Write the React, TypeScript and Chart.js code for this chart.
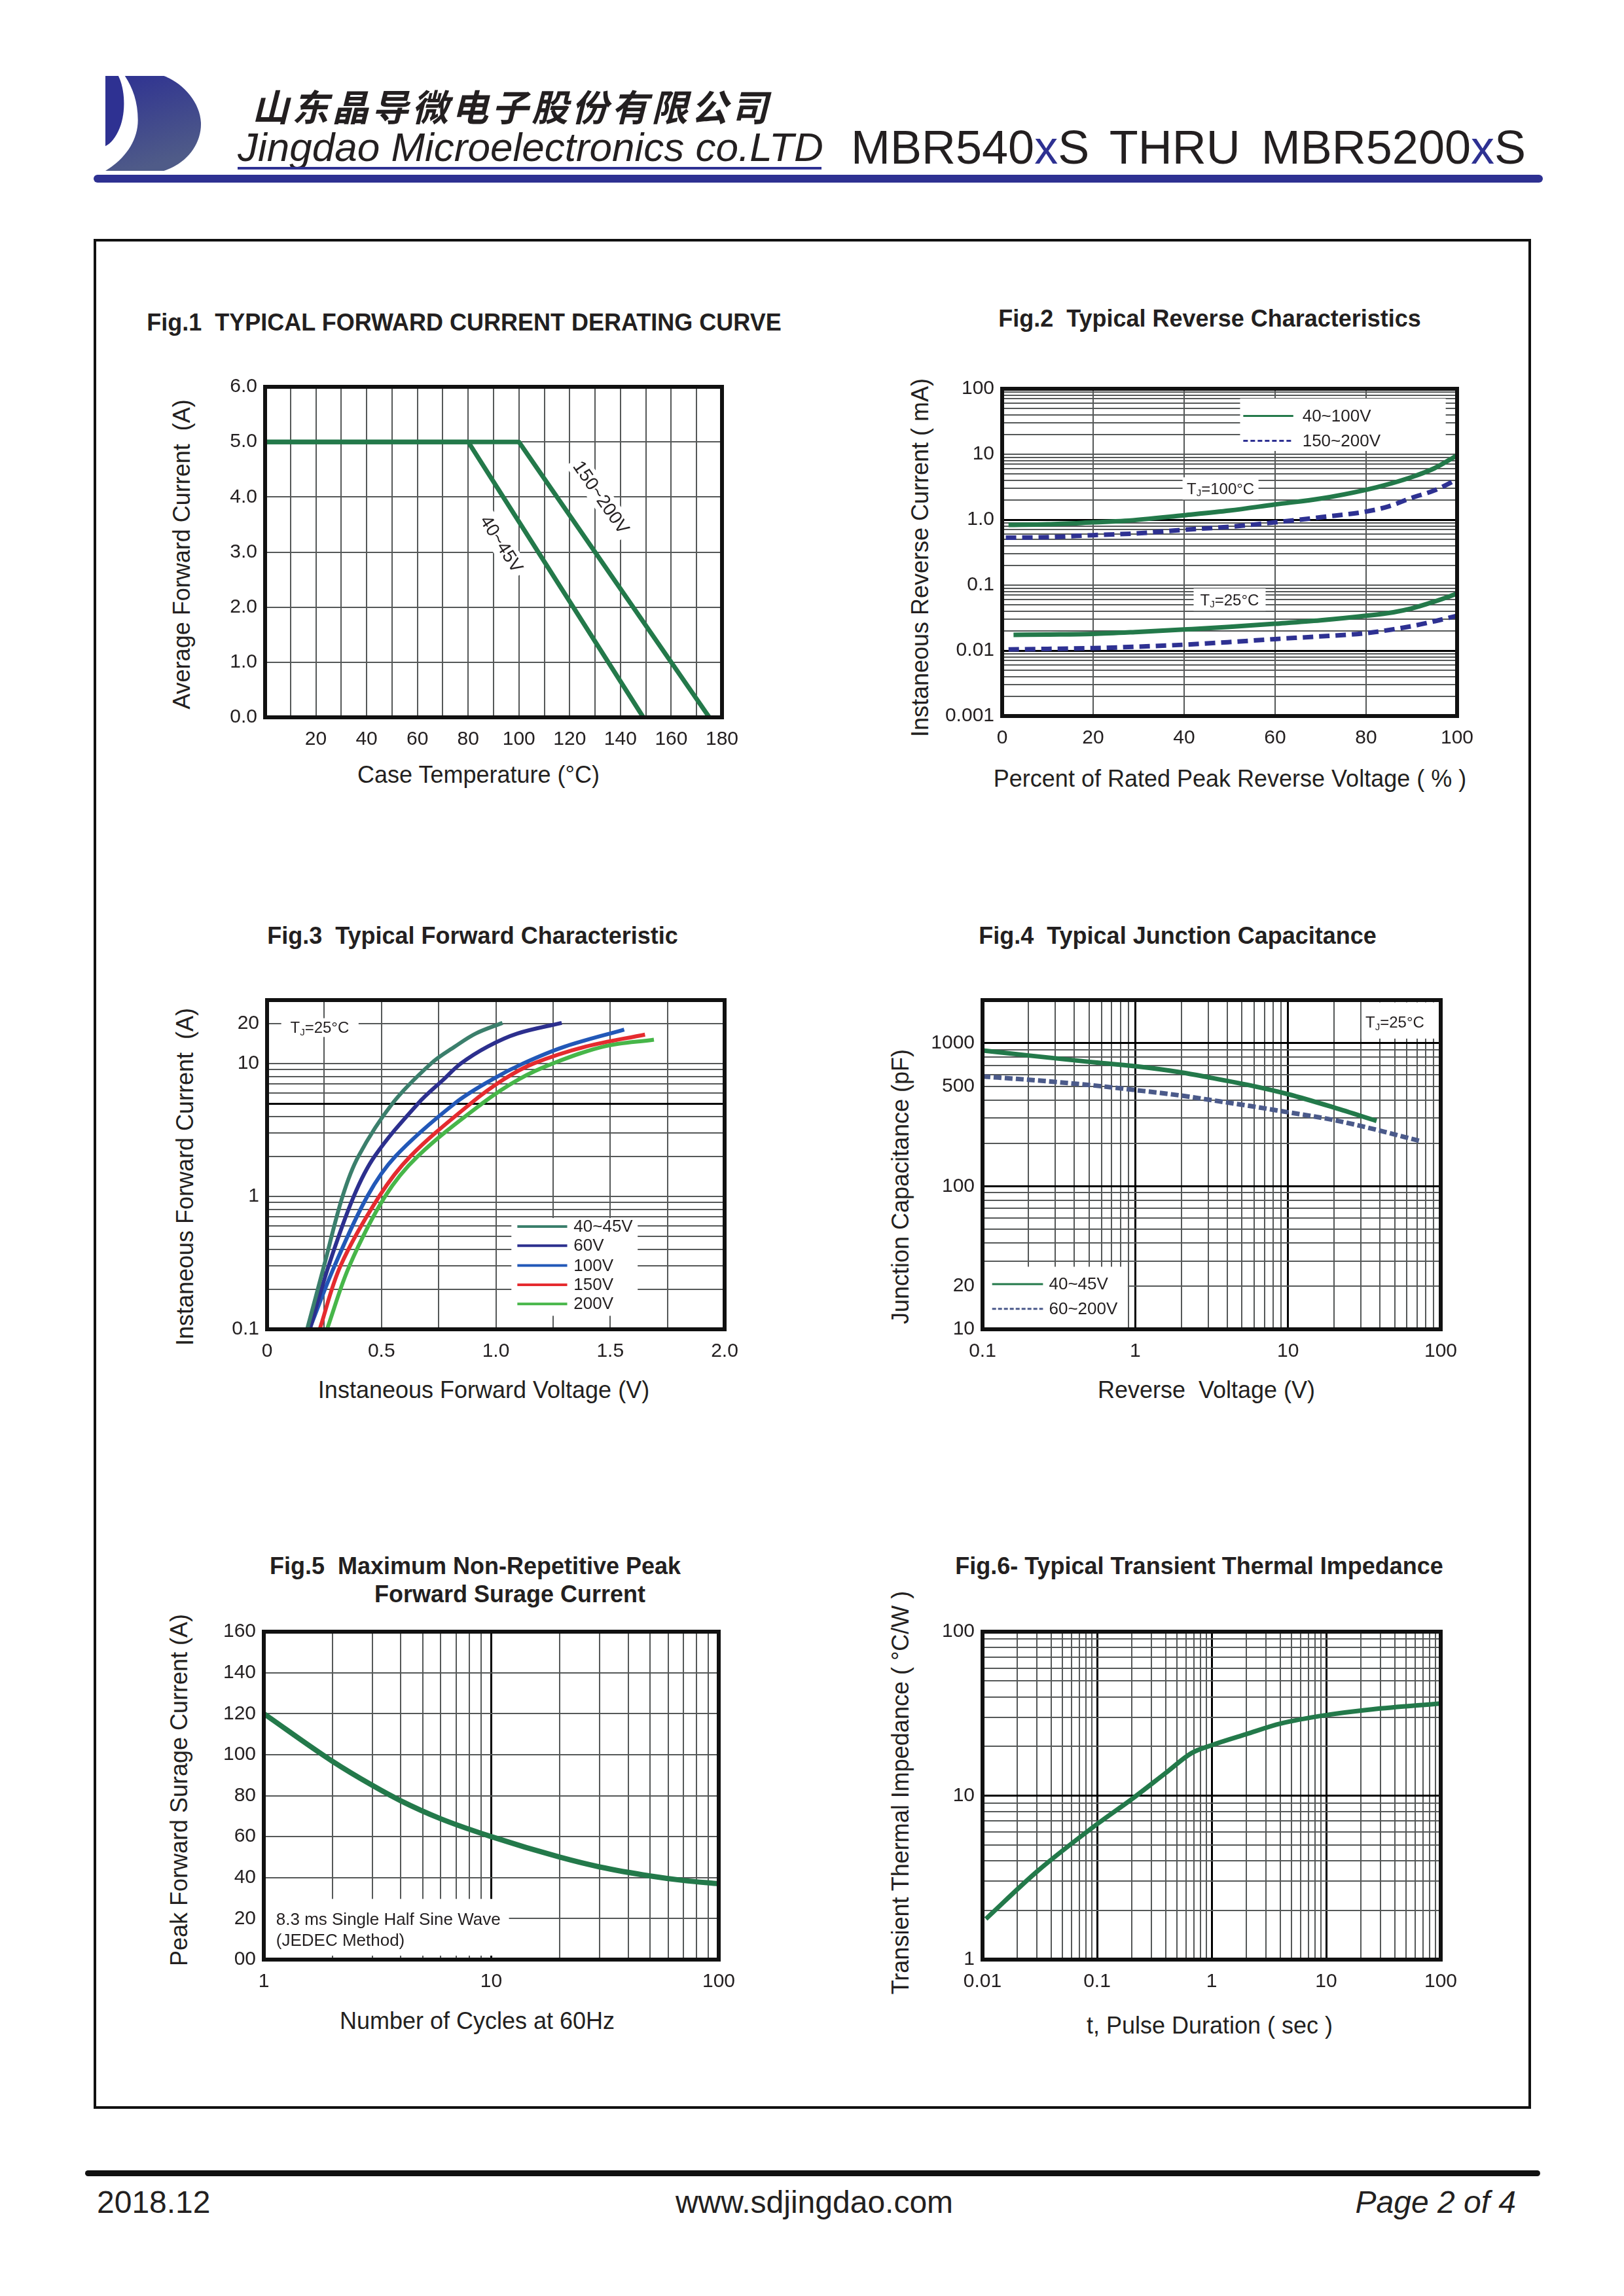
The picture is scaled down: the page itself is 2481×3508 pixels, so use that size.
import React, { useEffect, useRef } from 'react';
import { Chart, registerables } from 'chart.js';

Chart.register(...registerables);

const SANS = "'Liberation Sans', Arial, Helvetica, sans-serif";
const CJK = "'Noto Sans CJK SC', 'Noto Sans CJK JP', sans-serif";
const INK = '#231f20';
const NAVY = '#2e3192';
const GREEN = '#23794a';
const GRID = '#555858';

// ---------------- Fig.1 data ----------------
const fig1TempA = [0, 80, 149]; // 40~45V
const fig1CurA = [5, 5, 0];
const fig1TempB = [0, 100, 175]; // 150~200V
const fig1CurB = [5, 5, 0];
const fig1XTicks = [20, 40, 60, 80, 100, 120, 140, 160, 180];
const fig1XText = ['20', '40', '60', '80', '100', '120', '140', '160', '180'];
const fig1YTicks = [0, 1, 2, 3, 4, 5, 6];
const fig1YText = ['0.0', '1.0', '2.0', '3.0', '4.0', '5.0', '6.0'];

// ---------------- Fig.2 data ----------------
const fig2XG100 = [1.4, 10, 20, 27, 40, 50, 60, 70, 80, 85, 90, 95, 100];
const fig2YG100 = [0.83, 0.85, 0.91, 0.96, 1.17, 1.38, 1.71, 2.1, 2.86, 3.5, 4.47, 6.1, 9.6];
const fig2XD100 = [0.8, 10, 20, 30, 40, 50, 60, 70, 80, 85, 90, 95, 100];
const fig2YD100 = [0.53, 0.54, 0.58, 0.62, 0.7, 0.78, 0.91, 1.09, 1.33, 1.6, 2.15, 2.8, 4.1];
const fig2XG25 = [2.5, 10, 20, 30, 40, 50, 60, 70, 80, 86, 90, 95, 100];
const fig2YG25 = [0.0174, 0.0176, 0.018, 0.0193, 0.021, 0.023, 0.0257, 0.029, 0.034, 0.0385, 0.044, 0.056, 0.074];
const fig2XD25 = [1.4, 10, 20, 30, 40, 50, 60, 70, 80, 90, 95, 100];
const fig2YD25 = [0.0104, 0.0106, 0.0109, 0.0115, 0.0123, 0.0135, 0.015, 0.0165, 0.0185, 0.0236, 0.028, 0.034];
const fig2SeriesNames = ['40~100V', '150~200V'];
const fig2XTicks = [0, 20, 40, 60, 80, 100];
const fig2XText = ['0', '20', '40', '60', '80', '100'];
const fig2YTicks = [0.001, 0.01, 0.1, 1, 10, 100];
const fig2YText = ['0.001', '0.01', '0.1', '1.0', '10', '100'];

// ---------------- Fig.3 data ----------------
const fig3V4045 = [0.175, 0.249, 0.33, 0.399, 0.548, 0.717, 0.821, 0.912, 1.029];
const fig3I4045 = [0.1, 0.3, 1, 2, 5, 10, 13.4, 16.8, 20.2];
const fig3V60 = [0.187, 0.269, 0.379, 0.47, 0.66, 0.772, 0.847, 0.964, 1.094, 1.288];
const fig3I60 = [0.1, 0.3, 1, 2, 5, 7.6, 10, 13.4, 16.8, 20.2];
const fig3V100 = [0.185, 0.295, 0.438, 0.561, 0.82, 0.985, 1.119, 1.301, 1.561];
const fig3I100 = [0.1, 0.3, 1, 2, 5, 7.6, 10, 13.4, 18];
const fig3V150 = [0.23, 0.321, 0.49, 0.626, 0.89, 1.035, 1.165, 1.392, 1.652];
const fig3I150 = [0.1, 0.3, 1, 2, 5, 7.6, 10, 13.4, 16.5];
const fig3V200 = [0.262, 0.36, 0.516, 0.658, 0.94, 1.1, 1.249, 1.47, 1.691];
const fig3I200 = [0.1, 0.3, 1, 2, 5, 7.6, 10, 13.4, 15.1];
const fig3SeriesNames = ['40~45V', '60V', '100V', '150V', '200V'];
const fig3Colors = ['#3b7f6c', '#2c2f8e', '#2258b8', '#e52b2f', '#47b649'];
const fig3XTicks = [0, 0.5, 1, 1.5, 2];
const fig3XText = ['0', '0.5', '1.0', '1.5', '2.0'];
const fig3YTicks = [0.1, 1, 10, 20];
const fig3YText = ['0.1', '1', '10', '20'];

// ---------------- Fig.4 data ----------------
const fig4V4045 = [0.1, 0.2, 0.5, 1, 2, 3, 6, 10, 20, 38];
const fig4C4045 = [890, 820, 740, 690, 625, 578, 500, 440, 355, 286];
const fig4V60200 = [0.1, 0.2, 0.5, 1, 2, 3, 6, 10, 20, 38, 73];
const fig4C60200 = [585, 555, 510, 470, 430, 403, 360, 329, 290, 248, 207];
const fig4SeriesNames = ['40~45V', '60~200V'];
const fig4XTicks = [0.1, 1, 10, 100];
const fig4XText = ['0.1', '1', '10', '100'];
const fig4YTicks = [10, 20, 100, 500, 1000];
const fig4YText = ['10', '20', '100', '500', '1000'];

// ---------------- Fig.5 data ----------------
const fig5Cycles = [1, 2, 3, 4, 6, 10, 20, 30, 50, 70, 100];
const fig5Current = [120, 96.8, 85, 77.5, 68.7, 60, 50, 45.2, 40.8, 38.6, 37];
const fig5XTicks = [1, 10, 100];
const fig5XText = ['1', '10', '100'];
const fig5YTicks = [0, 20, 40, 60, 80, 100, 120, 140, 160];
const fig5YText = ['00', '20', '40', '60', '80', '100', '120', '140', '160'];

// ---------------- Fig.6 data ----------------
const fig6Time = [0.0107, 0.03, 0.1, 0.2, 0.4, 0.67, 1, 2, 4, 10, 25, 100];
const fig6Imp = [1.77, 3.45, 6.7, 9.5, 13.8, 18.2, 20.3, 23.7, 27.5, 31, 33.6, 36.5];
const fig6XTicks = [0.01, 0.1, 1, 10, 100];
const fig6XText = ['0.01', '0.1', '1', '10', '100'];
const fig6YTicks = [1, 10, 100];
const fig6YText = ['1', '10', '100'];

// ---------------- helpers ----------------
const S = 0.9955;
const z = (v: number) => Math.round(v * S);

const near = (a: number, b: number) => Math.abs(a - b) <= 1e-9 + 1e-6 * Math.abs(b);

function range(a: number, b: number, s: number) {
  const out: number[] = [];
  for (let v = a; v <= b + 1e-9; v += s) out.push(Number(v.toFixed(6)));
  return out;
}

function logTicks(lo: number, hi: number) {
  const out: number[] = [];
  const e0 = Math.floor(Math.log10(lo) + 1e-9);
  const e1 = Math.ceil(Math.log10(hi) - 1e-9);
  for (let e = e0; e <= e1; e++) {
    for (let m = 1; m <= 9; m++) {
      const v = Number((m * Math.pow(10, e)).toPrecision(6));
      if (v >= lo * (1 - 1e-9) && v <= hi * (1 + 1e-9)) out.push(v);
    }
  }
  return out;
}

function series(xs: number[], ys: number[], color: string, width: number, dash: number[] = [], mode = 'monotone') {
  return {
    data: xs.map((x, i) => ({ x, y: ys[i] })),
    borderColor: color,
    borderWidth: width,
    borderDash: dash,
    pointRadius: 0,
    fill: false,
    tension: mode === 'smooth' ? 0.35 : 0,
    cubicInterpolationMode: mode === 'monotone' ? 'monotone' : 'default',
    borderCapStyle: 'butt',
    borderJoinStyle: 'round',
  };
}

const PADT = 30;
const PADR = 60;
const YAXIS_W = 110;
const XAXIS_H = 70;

function axisOptions(ax: any, horizontal: boolean) {
  const isMajor = (v: number) => (ax.major || []).some((m: number) => near(v, m));
  return {
    type: ax.type,
    min: ax.min,
    max: ax.max,
    position: horizontal ? 'bottom' : 'left',
    afterBuildTicks: (s: any) => {
      s.ticks = ax.grid.map((v: number) => ({ value: v }));
    },
    afterFit: (s: any) => {
      if (horizontal) s.height = XAXIS_H;
      else s.width = YAXIS_W;
    },
    grid: {
      drawTicks: false,
      color: (c: any) => (c.tick && isMajor(c.tick.value) ? '#000000' : GRID),
      lineWidth: (c: any) => (c.tick && isMajor(c.tick.value) ? 3 : 2),
    },
    border: { display: false },
    ticks: {
      autoSkip: false,
      maxRotation: 0,
      minRotation: 0,
      padding: horizontal ? 16 : 12,
      color: INK,
      font: { family: SANS, size: 30 },
      callback: (v: any) => {
        const i = ax.labels.findIndex((l: number) => near(Number(v), l));
        return i >= 0 ? ax.texts[i] : '';
      },
    },
    title: { display: false },
  };
}

const px = (c: any, f: number) => c.chartArea.left + f * (c.chartArea.right - c.chartArea.left);
const py = (c: any, f: number) => c.chartArea.top + f * (c.chartArea.bottom - c.chartArea.top);

function blank(c: any, x0: number, y0: number, x1: number, y1: number) {
  const ctx = c.ctx;
  ctx.save();
  ctx.fillStyle = '#ffffff';
  ctx.fillRect(px(c, x0), py(c, y0), px(c, x1) - px(c, x0), py(c, y1) - py(c, y0));
  ctx.restore();
}

function blankPx(c: any, cx: number, cy: number, w: number, h: number) {
  const ctx = c.ctx;
  ctx.save();
  ctx.fillStyle = '#ffffff';
  ctx.fillRect(cx - w / 2, cy - h / 2, w, h);
  ctx.restore();
}

function textAt(c: any, text: string, x: number, y: number, size = 26) {
  const ctx = c.ctx;
  ctx.save();
  ctx.fillStyle = INK;
  ctx.font = `${size}px ${SANS}`;
  ctx.textAlign = 'left';
  ctx.textBaseline = 'middle';
  ctx.fillText(text, x, y);
  ctx.restore();
}

function tjText(c: any, cx: number, cy: number, rest: string, size = 26) {
  const ctx = c.ctx;
  ctx.save();
  ctx.fillStyle = INK;
  ctx.textAlign = 'left';
  ctx.textBaseline = 'alphabetic';
  const big = `${size}px ${SANS}`;
  const small = `${Math.round(size * 0.62)}px ${SANS}`;
  ctx.font = big;
  const wT = ctx.measureText('T').width;
  const wR = ctx.measureText(rest).width;
  ctx.font = small;
  const wJ = ctx.measureText('J').width;
  let x = cx - (wT + wJ + wR) / 2;
  const base = cy + size * 0.36;
  ctx.font = big;
  ctx.fillText('T', x, base);
  x += wT;
  ctx.font = small;
  ctx.fillText('J', x, base + size * 0.14);
  x += wJ;
  ctx.font = big;
  ctx.fillText(rest, x, base);
  ctx.restore();
}

function legendEntry(c: any, fx0: number, fx1: number, fy: number, ftx: number, color: string, width: number, dash: number[], text: string, size = 26) {
  const ctx = c.ctx;
  ctx.save();
  ctx.strokeStyle = color;
  ctx.lineWidth = width;
  ctx.setLineDash(dash);
  ctx.beginPath();
  ctx.moveTo(px(c, fx0), py(c, fy));
  ctx.lineTo(px(c, fx1), py(c, fy));
  ctx.stroke();
  ctx.restore();
  textAt(c, text, px(c, ftx), py(c, fy) + 1, size);
}

function rotLabel(c: any, text: string, fx: number, fy: number, xs: number[], ys: number[]) {
  const { ctx, scales } = c;
  const n = xs.length;
  const x0 = scales.x.getPixelForValue(xs[n - 2]);
  const y0 = scales.y.getPixelForValue(ys[n - 2]);
  const x1 = scales.x.getPixelForValue(xs[n - 1]);
  const y1 = scales.y.getPixelForValue(ys[n - 1]);
  const ang = Math.atan2(y1 - y0, x1 - x0);
  ctx.save();
  ctx.translate(px(c, fx), py(c, fy));
  ctx.rotate(ang);
  ctx.font = `28px ${SANS}`;
  const w = ctx.measureText(text).width;
  ctx.fillStyle = '#ffffff';
  ctx.fillRect(-w / 2 - 6, -17, w + 12, 34);
  ctx.fillStyle = INK;
  ctx.textAlign = 'center';
  ctx.textBaseline = 'middle';
  ctx.fillText(text, 0, 1);
  ctx.restore();
}

function buildConfig(spec: any) {
  return {
    type: 'line',
    data: { datasets: spec.datasets },
    options: {
      animation: false,
      responsive: false,
      devicePixelRatio: 1,
      events: [],
      layout: { padding: { left: 0, top: PADT, right: PADR, bottom: 0 } },
      plugins: { legend: { display: false }, tooltip: { enabled: false }, title: { display: false } },
      scales: { x: axisOptions(spec.x, true), y: axisOptions(spec.y, false) },
    },
    plugins: [
      {
        id: 'overlay',
        beforeDatasetsDraw(chart: any) {
          if (spec.overlay) spec.overlay(chart);
        },
        afterDraw(chart: any) {
          const { ctx, chartArea: ca } = chart;
          ctx.save();
          ctx.strokeStyle = '#111111';
          ctx.lineWidth = 6;
          ctx.strokeRect(ca.left, ca.top, ca.right - ca.left, ca.bottom - ca.top);
          ctx.restore();
        },
      },
    ],
  };
}

// ---------------- chart specs ----------------
const specs: any[] = [
  {
    key: 'f1', L: z(407), T: z(594), R: z(1108), B: z(1101),
    x: { type: 'linear', min: 0, max: 180, grid: range(0, 180, 10), labels: fig1XTicks, texts: fig1XText },
    y: { type: 'linear', min: 0, max: 6, grid: range(0, 6, 1), labels: fig1YTicks, texts: fig1YText },
    datasets: [
      series(fig1TempA, fig1CurA, GREEN, 7, [], 'straight'),
      series(fig1TempB, fig1CurB, GREEN, 7, [], 'straight'),
    ],
    overlay: (c: any) => {
      rotLabel(c, '150~200V', 0.735, 0.335, fig1TempB, fig1CurB);
      rotLabel(c, '40~45V', 0.517, 0.476, fig1TempA, fig1CurA);
    },
  },
  {
    key: 'f2', L: z(1538), T: z(597), R: z(2236), B: z(1099),
    x: { type: 'linear', min: 0, max: 100, grid: range(0, 100, 20), labels: fig2XTicks, texts: fig2XText },
    y: { type: 'logarithmic', min: 0.001, max: 100, grid: logTicks(0.001, 100), labels: fig2YTicks, texts: fig2YText, major: [0.01, 1] },
    datasets: [
      series(fig2XG100, fig2YG100, GREEN, 7),
      series(fig2XD100, fig2YD100, NAVY, 7, [16, 9]),
      series(fig2XG25, fig2YG25, GREEN, 7),
      series(fig2XD25, fig2YD25, NAVY, 7, [16, 9]),
    ],
    overlay: (c: any) => {
      blank(c, 0.523, 0.03, 0.975, 0.19);
      legendEntry(c, 0.53, 0.64, 0.083, 0.66, GREEN, 3, [], fig2SeriesNames[0]);
      legendEntry(c, 0.53, 0.64, 0.159, 0.66, NAVY, 3, [7, 4], fig2SeriesNames[1]);
      const xs = c.scales.x;
      const ys = c.scales.y;
      blankPx(c, xs.getPixelForValue(48), ys.getPixelForValue(3.0), 116, 34);
      tjText(c, xs.getPixelForValue(48), ys.getPixelForValue(3.0), '=100°C', 24);
      blankPx(c, xs.getPixelForValue(50), ys.getPixelForValue(0.06), 110, 34);
      tjText(c, xs.getPixelForValue(50), ys.getPixelForValue(0.06), '=25°C', 24);
    },
  },
  {
    key: 'f3', L: z(410), T: z(1535), R: z(1112), B: z(2040),
    x: { type: 'linear', min: 0, max: 2, grid: range(0, 2, 0.25), labels: fig3XTicks, texts: fig3XText },
    y: { type: 'logarithmic', min: 0.1, max: 30, grid: logTicks(0.1, 30), labels: fig3YTicks, texts: fig3YText, major: [5] },
    datasets: [
      series(fig3V4045, fig3I4045, fig3Colors[0], 6, [], 'smooth'),
      series(fig3V60, fig3I60, fig3Colors[1], 6, [], 'smooth'),
      series(fig3V100, fig3I100, fig3Colors[2], 6, [], 'smooth'),
      series(fig3V150, fig3I150, fig3Colors[3], 6, [], 'smooth'),
      series(fig3V200, fig3I200, fig3Colors[4], 6, [], 'smooth'),
    ],
    overlay: (c: any) => {
      blank(c, 0.031, 0.055, 0.2, 0.112);
      tjText(c, px(c, 0.115), py(c, 0.083), '=25°C', 24);
      blank(c, 0.534, 0.662, 0.81, 0.959);
      const rows = [0.688, 0.746, 0.806, 0.865, 0.923];
      rows.forEach((r, i) => legendEntry(c, 0.547, 0.656, r, 0.67, fig3Colors[i], 4, [], fig3SeriesNames[i]));
    },
  },
  {
    key: 'f4', L: z(1508), T: z(1535), R: z(2211), B: z(2040),
    x: { type: 'logarithmic', min: 0.1, max: 100, grid: logTicks(0.1, 100), labels: fig4XTicks, texts: fig4XText, major: [1, 10] },
    y: { type: 'logarithmic', min: 10, max: 2000, grid: logTicks(10, 2000), labels: fig4YTicks, texts: fig4YText, major: [100, 1000] },
    datasets: [
      series(fig4V4045, fig4C4045, GREEN, 7),
      series(fig4V60200, fig4C60200, '#4b5a8a', 7, [12, 5]),
    ],
    overlay: (c: any) => {
      blank(c, 0.827, 0.007, 0.995, 0.117);
      tjText(c, px(c, 0.9), py(c, 0.067), '=25°C', 24);
      blank(c, 0.002, 0.81, 0.317, 0.997);
      legendEntry(c, 0.021, 0.132, 0.863, 0.145, GREEN, 3, [], fig4SeriesNames[0]);
      legendEntry(c, 0.021, 0.132, 0.938, 0.145, '#4b5a8a', 3, [6, 3], fig4SeriesNames[1]);
    },
  },
  {
    key: 'f5', L: z(405), T: z(2504), R: z(1103), B: z(3008),
    x: { type: 'logarithmic', min: 1, max: 100, grid: logTicks(1, 100), labels: fig5XTicks, texts: fig5XText, major: [10] },
    y: { type: 'linear', min: 0, max: 160, grid: range(0, 160, 20), labels: fig5YTicks, texts: fig5YText },
    datasets: [series(fig5Cycles, fig5Current, GREEN, 8)],
    overlay: (c: any) => {
      blank(c, 0.004, 0.815, 0.539, 0.988);
      textAt(c, '8.3 ms Single Half Sine Wave', px(c, 0.027), py(c, 0.879), 26);
      textAt(c, '(JEDEC Method)', px(c, 0.027), py(c, 0.944), 26);
    },
  },
  {
    key: 'f6', L: z(1508), T: z(2504), R: z(2211), B: z(3008),
    x: { type: 'logarithmic', min: 0.01, max: 100, grid: logTicks(0.01, 100), labels: fig6XTicks, texts: fig6XText, major: [0.1, 1, 10] },
    y: { type: 'logarithmic', min: 1, max: 100, grid: logTicks(1, 100), labels: fig6YTicks, texts: fig6YText, major: [10] },
    datasets: [series(fig6Time, fig6Imp, GREEN, 7)],
  },
];

function ChartCanvas({ spec }: { spec: any }) {
  const ref = useRef<HTMLCanvasElement | null>(null);
  const w = spec.R - spec.L + YAXIS_W + PADR;
  const h = spec.B - spec.T + PADT + XAXIS_H;
  useEffect(() => {
    const chart = new Chart(ref.current as HTMLCanvasElement, buildConfig(spec) as any);
    return () => chart.destroy();
  }, []);
  return (
    <canvas
      ref={ref}
      width={w}
      height={h}
      style={{ position: 'absolute', left: spec.L - YAXIS_W, top: spec.T - PADT, width: w, height: h }}
    />
  );
}

function Txt(props: any) {
  const { x, y, size, children, weight = 400, italic = false, anchor = 'middle', family = SANS, color = INK, rotate = 0, spacing = 0, wordSpacing = 0 } = props;
  const tx = anchor === 'start' ? '0' : anchor === 'end' ? '-100%' : '-50%';
  return (
    <div
      style={{
        position: 'absolute', left: z(x), top: z(y),
        transform: `translate(${tx}, -50%)${rotate ? ` rotate(${rotate}deg)` : ''}`,
        fontSize: size, lineHeight: 1, fontFamily: family, fontWeight: weight,
        fontStyle: italic ? 'italic' : 'normal', color, whiteSpace: 'pre',
        letterSpacing: spacing, wordSpacing,
      }}
    >
      {children}
    </div>
  );
}

function Box(props: any) {
  const { x, y, w, h, bg, radius = 0, border } = props;
  return (
    <div
      style={{
        position: 'absolute', left: z(x), top: z(y), width: z(w), height: z(h),
        background: bg, borderRadius: radius, border, boxSizing: 'border-box',
      }}
    />
  );
}

function Logo() {
  return (
    <svg width={z(150)} height={z(146)} viewBox="0 0 150 146" style={{ position: 'absolute', left: z(162), top: z(117) }}>
      <defs>
        <linearGradient id="logoGrad" x1="0" y1="0" x2="0.3" y2="1">
          <stop offset="0" stopColor="#2e3192" />
          <stop offset="1" stopColor="#4f5b88" />
        </linearGradient>
      </defs>
      <path d="M30,0 L90,0 C118,10 146,40 147,72 C148,105 125,135 90,146 L0,146 C30,128 50,100 50,68 C50,40 42,18 30,0 Z" fill="url(#logoGrad)" />
      <path d="M0,0 L20,0 C30,20 32,55 22,80 C16,95 8,104 0,108 Z" fill="#2e3192" />
    </svg>
  );
}

export default function App() {
  return (
    <div style={{ position: 'absolute', left: 0, top: 0, width: 2481, height: 3508, background: '#ffffff', overflow: 'hidden' }}>
      <Logo />
      <Txt x={387} y={162} size={56} anchor="start" family={CJK} weight={700} italic spacing={5}>山东晶导微电子股份有限公司</Txt>
      <Txt x={365} y={226} size={62} anchor="start" italic>Jingdao Microelectronics co.LTD</Txt>
      <Box x={365} y={256} w={896} h={4} bg={NAVY} />
      <Txt x={1306} y={226} size={72} anchor="start" wordSpacing={12}>
        MBR540<span style={{ color: NAVY }}>x</span>S THRU MBR5200<span style={{ color: NAVY }}>x</span>S
      </Txt>
      <Box x={144} y={268} w={2224} h={12} bg={NAVY} radius={6} />

      <Box x={144} y={367} w={2206} h={2870} border="4px solid #111" />

      {/* Figure titles */}
      <Txt x={712} y={495} size={36} weight={700}>Fig.1  TYPICAL FORWARD CURRENT DERATING CURVE</Txt>
      <Txt x={1856} y={489} size={36} weight={700}>Fig.2  Typical Reverse Characteristics</Txt>
      <Txt x={725} y={1436} size={36} weight={700}>Fig.3  Typical Forward Characteristic</Txt>
      <Txt x={1807} y={1436} size={36} weight={700}>Fig.4  Typical Junction Capacitance</Txt>
      <Txt x={729} y={2404} size={36} weight={700}>Fig.5  Maximum Non-Repetitive Peak</Txt>
      <Txt x={783} y={2447} size={36} weight={700}>Forward Surage Current</Txt>
      <Txt x={1840} y={2404} size={36} weight={700}>Fig.6- Typical Transient Thermal Impedance</Txt>

      {/* Axis titles */}
      <Txt x={279} y={851} size={36} rotate={-90}>Average Forward Current  (A)</Txt>
      <Txt x={734} y={1189} size={36}>Case Temperature (°C)</Txt>
      <Txt x={1412} y={856} size={36} rotate={-90}>Instaneous Reverse Current ( mA)</Txt>
      <Txt x={1887} y={1195} size={36}>Percent of Rated Peak Reverse Voltage ( % )</Txt>
      <Txt x={284} y={1806} size={36} rotate={-90}>Instaneous Forward Current  (A)</Txt>
      <Txt x={742} y={2134} size={36}>Instaneous Forward Voltage (V)</Txt>
      <Txt x={1382} y={1821} size={36} rotate={-90}>Junction Capacitance (pF)</Txt>
      <Txt x={1851} y={2134} size={36}>Reverse  Voltage (V)</Txt>
      <Txt x={275} y={2747} size={36} rotate={-90}>Peak Forward Surage Current (A)</Txt>
      <Txt x={732} y={3102} size={36}>Number of Cycles at 60Hz</Txt>
      <Txt x={1382} y={2751} size={36} rotate={-90}>Transient Thermal Impedance ( °C/W )</Txt>
      <Txt x={1856} y={3109} size={36}>t, Pulse Duration ( sec )</Txt>

      {specs.map((s) => (
        <ChartCanvas key={s.key} spec={s} />
      ))}

      {/* Footer */}
      <Box x={131} y={3331} w={2233} h={9} bg="#111" radius={5} />
      <Txt x={149} y={3380} size={48} anchor="start">2018.12</Txt>
      <Txt x={1250} y={3380} size={48}>www.sdjingdao.com</Txt>
      <Txt x={2326} y={3380} size={48} anchor="end" italic>Page 2 of 4</Txt>
    </div>
  );
}
